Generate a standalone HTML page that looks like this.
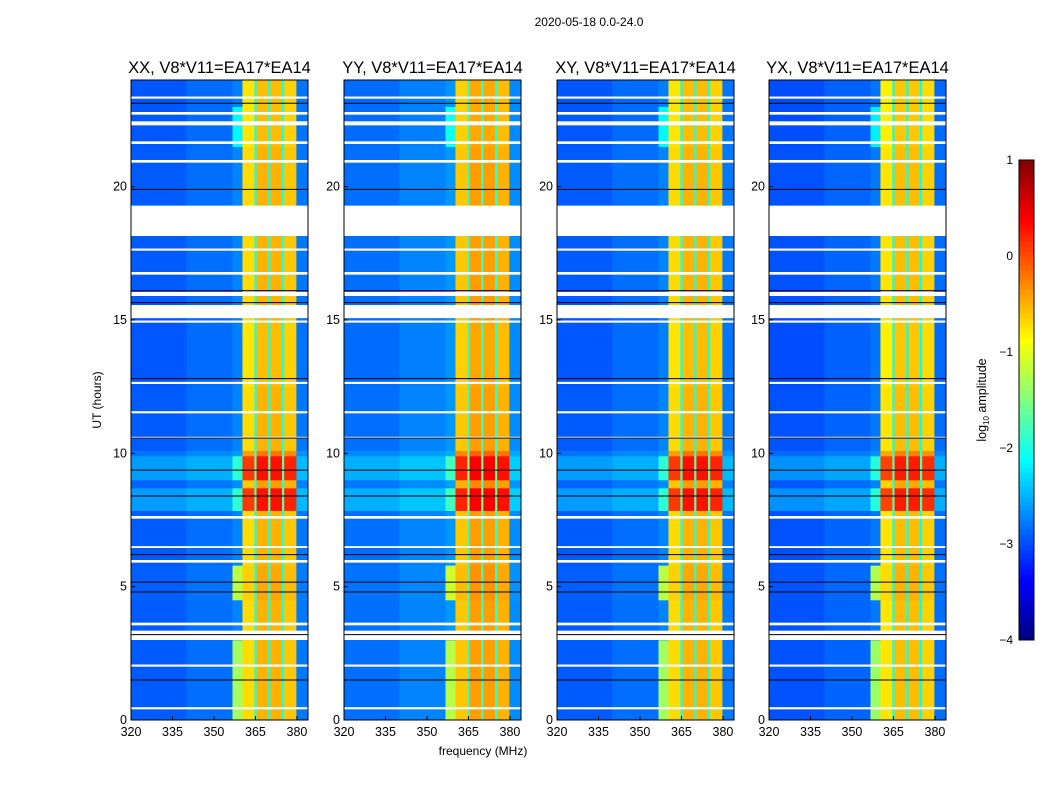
<!DOCTYPE html>
<html><head><meta charset="utf-8">
<style>
body{margin:0;background:#fff;}
svg{display:block;font-family:"Liberation Sans",sans-serif;}
</style></head>
<body>
<svg id="fig" width="1050" height="800" viewBox="0 0 1050 800">
<text x="589" y="26" font-size="12" text-anchor="middle">2020-05-18 0.0-24.0</text>
<text x="483" y="755" font-size="12" text-anchor="middle">frequency (MHz)</text>
<text x="0" y="0" font-size="12" text-anchor="middle" transform="translate(101,400) rotate(-90)">UT (hours)</text>
<g id="panels"></g>
<g id="cbar"></g>
</svg>
<script>
const panelTitles = ["XX, V8*V11=EA17*EA14","YY, V8*V11=EA17*EA14","XY, V8*V11=EA17*EA14","YX, V8*V11=EA17*EA14"];
const panelShift = [0, 0.1, 0, -0.05];
// frequency segments [startMHz, endMHz, log10 amplitude]
const freqSegStart = [320, 340, 356.7, 360.3, 364.6, 365.4, 369.6, 370.4, 374.6, 375.4, 379.8];
const freqSegEnd   = [340, 356.7, 360.3, 364.6, 365.4, 369.6, 370.4, 374.6, 375.4, 379.8, 384];
const freqLevel    = [-2.95, -2.85, -2.75, -0.75, -2.0, -0.55, -2.0, -0.55, -2.0, -0.65, -2.8];
// time segments [startH, endH, offset, edge-column boost]
const timeSegStart = [0, 3, 4.5, 5.8, 7.85, 8.7, 9.0, 9.9, 10.1, 12.5, 15, 19.3, 21.5, 23];
const timeSegEnd   = [3, 4.5, 5.8, 7.85, 8.7, 9.0, 9.9, 10.1, 12.5, 15, 18.2, 21.5, 23, 24];
const timeOffset   = [0.05, 0.05, 0.1, 0.05, 0.85, 0.15, 0.85, 0.35, 0.05, 0, 0.05, 0.05, 0, 0];
const edgeBoost    = [1.4, 0, 1.5, 0, 0.5, 0, 0.5, 0, 0, 0, 0, 0, 0.6, 0];
// flagged (white) time intervals
const gapStart = [18.15, 15.07, 15.9, 3.0, 0.4, 3.55, 5.9, 7.55, 11.5, 12.6, 14.9, 16.7, 20.9, 21.6, 22.3, 22.7, 23.3, 17.6, 10.55, 6.45, 2.0];
const gapEnd   = [19.27, 15.56, 16.05, 3.35, 0.48, 3.65, 6.0, 7.65, 11.58, 12.68, 14.98, 16.8, 21.0, 21.7, 22.45, 22.8, 23.38, 17.68, 10.62, 6.52, 2.08];
// flagged black lines
const blackLines = [23.13, 19.9, 16.1, 15.65, 3.2, 4.8, 5.17, 10.57, 9.37, 8.4, 6.2, 1.5, 12.8];
const xTicks = [320, 335, 350, 365, 380];
const yTicks = [0, 5, 10, 15, 20];
const cbTicks = [1, 0, -1, -2, -3, -4];
const cbLabels = ["1", "0", "\u22121", "\u22122", "\u22123", "\u22124"];

const panelX = [131, 344, 557, 769], PW = 177, PT = 80, PB = 720;
const ns = "http://www.w3.org/2000/svg";
function mk(tag, attrs, parent){const e=document.createElementNS(ns,tag);for(const k in attrs)e.setAttribute(k,attrs[k]);parent.appendChild(e);return e;}
function jet(t){t=Math.max(0,Math.min(1,t));
  const r=Math.max(0,Math.min(1,1.5-Math.abs(4*t-3))),g=Math.max(0,Math.min(1,1.5-Math.abs(4*t-2))),b=Math.max(0,Math.min(1,1.5-Math.abs(4*t-1)));
  return `rgb(${Math.round(r*255)},${Math.round(g*255)},${Math.round(b*255)})`;}
function vcol(v){return jet((v+4)/5);}
const root = document.getElementById('panels');
panelTitles.forEach((title,p)=>{
  const x0=panelX[p];
  const xs=f=>x0+(f-320)*(PW/64);
  const ys=h=>PB-(h/24)*(PB-PT);
  const g=mk('g',{},root);
  
  
  for(let i=0;i<timeSegStart.length;i++){
    for(let j=0;j<freqSegStart.length;j++){
      let v=freqLevel[j]+panelShift[p];
      if(freqLevel[j]>-1.9) v+=timeOffset[i]; else v+=timeOffset[i]*0.4;
      if(j===2) v+=edgeBoost[i];
      const r=mk('rect',{x:xs(freqSegStart[j]),y:ys(timeSegEnd[i]),width:xs(freqSegEnd[j])-xs(freqSegStart[j])+0.3,height:ys(timeSegStart[i])-ys(timeSegEnd[i])+0.3,fill:vcol(v)},g);
      
      
    }
  }
  for(let k=0;k<gapStart.length;k++){
    const r=mk('rect',{x:x0,y:ys(gapEnd[k]),width:PW,height:ys(gapStart[k])-ys(gapEnd[k]),fill:'#fff'},g);
    
    
  }
  blackLines.forEach(h=>{
    const l=mk('line',{x1:x0,x2:x0+PW,y1:ys(h),y2:ys(h),stroke:'#000','stroke-width':1},g);
    
    
  });
  const fr=mk('rect',{x:x0,y:PT,width:PW,height:PB-PT,fill:'none',stroke:'#000','stroke-width':1},g);
  
  
  const t=mk('text',{x:x0+PW/2,y:73,'font-size':16.5,'text-anchor':'middle'},g);
  t.textContent=title;
  
  
  xTicks.forEach(f=>{
    const tx=mk('text',{x:xs(f),y:736,'font-size':12.5,'text-anchor':'middle'},g);
    tx.textContent=f;
    
    
    mk('line',{x1:xs(f),x2:xs(f),y1:PB,y2:PB-4,stroke:'#000'},g);
  });
  yTicks.forEach(h=>{
    const ty=mk('text',{x:x0-4,y:ys(h)+4,'font-size':12.5,'text-anchor':'end'},g);
    ty.textContent=h;
    
    
    mk('line',{x1:x0,x2:x0+4,y1:ys(h),y2:ys(h),stroke:'#000'},g);
  });
});
// colorbar
const cb=document.getElementById('cbar');
const CX=1019,CW=15,CT=160,CB=640;
const cys=v=>CB-(v+4)/5*(CB-CT);
for(let i=0;i<100;i++){
  const v0=-4+i*0.05;
  const r=mk('rect',{x:CX,y:cys(v0+0.05),width:CW,height:(CB-CT)/100+0.5,fill:vcol(v0+0.025)},cb);
  
  
}
mk('rect',{x:CX,y:CT,width:CW,height:CB-CT,fill:'none',stroke:'#000'},cb);
cbTicks.forEach((v,i)=>{
  const t=mk('text',{x:1013,y:cys(v)+4,'font-size':12,'text-anchor':'end'},cb);
  t.textContent=cbLabels[i];
  
  
});
const lab=mk('text',{x:0,y:0,'font-size':12.5,'text-anchor':'middle',transform:'translate(986,400) rotate(-90)'},cb);
lab.innerHTML='log<tspan font-size="8" dy="3">10</tspan><tspan dy="-3"> amplitude</tspan>';


</script>
</body></html>
